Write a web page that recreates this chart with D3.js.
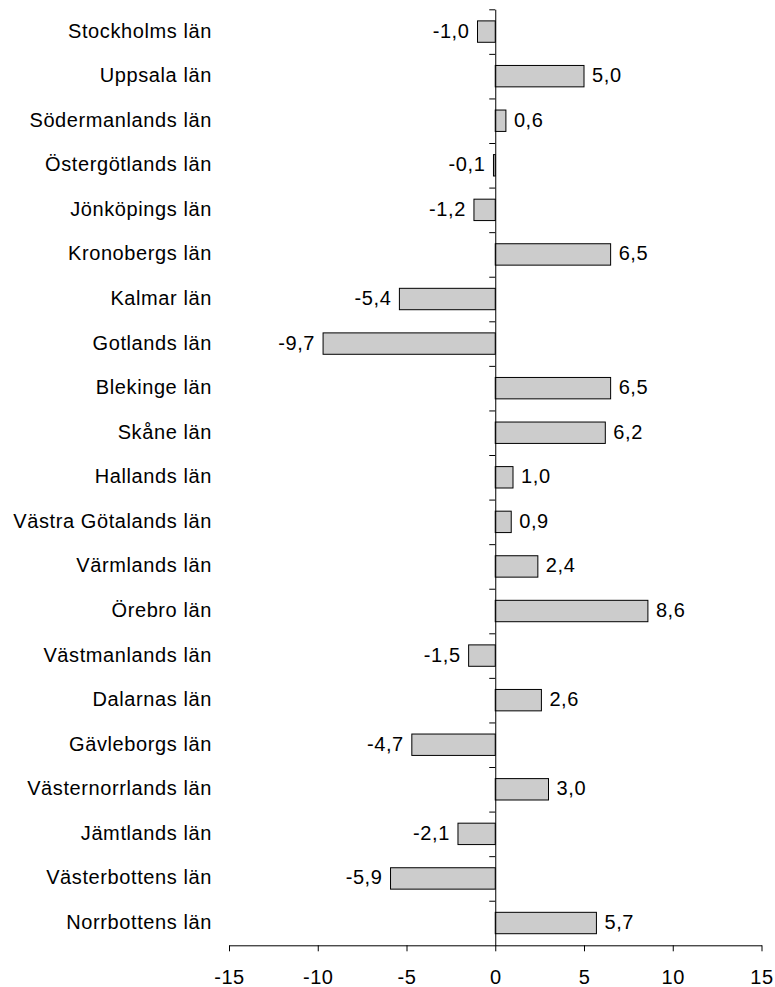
<!DOCTYPE html>
<html>
<head>
<meta charset="utf-8">
<script src="https://cdn.jsdelivr.net/npm/d3@7"></script>
<style>
  body { margin: 0; background: #fff; }
  text { font-family: "Liberation Sans", Arial, sans-serif; fill: #000; }
</style>
</head>
<body>
<div id="my_dataviz"></div>
<script>
var counties = ["Stockholms län", "Uppsala län", "Södermanlands län", "Östergötlands län",
    "Jönköpings län", "Kronobergs län", "Kalmar län", "Gotlands län", "Blekinge län",
    "Skåne län", "Hallands län", "Västra Götalands län", "Värmlands län", "Örebro län",
    "Västmanlands län", "Dalarnas län", "Gävleborgs län", "Västernorrlands län",
    "Jämtlands län", "Västerbottens län", "Norrbottens län"];
var values = [-1.0, 5.0, 0.6, -0.1, -1.2, 6.5, -5.4, -9.7, 6.5, 6.2, 1.0, 0.9, 2.4, 8.6,
    -1.5, 2.6, -4.7, 3.0, -2.1, -5.9, 5.7];
var xTicks = [-15, -10, -5, 0, 5, 10, 15];

var data = counties.map(function(c, i) { return {name: c, value: values[i]}; });

var width = 775, height = 987;
var fontSize = "20px", spacing = "0.6px";

var svg = d3.select("#my_dataviz")
    .append("svg")
    .attr("width", width)
    .attr("height", height);

// scales
var x = d3.scaleLinear()
    .domain([-15, 15])
    .range([229, 761.5]);

var y = d3.scaleBand()
    .domain(counties)
    .range([9.3, 945.3])
    .paddingInner(0.52)
    .paddingOuter(0.26);

// boundaries between categories (for the tick marks on the vertical axis)
var yEdge = d3.scaleLinear()
    .domain([0, counties.length])
    .range([9.3, 945.3]);

var fmt = function(v) { return d3.format(".1f")(v).replace(".", ",").replace("−", "-"); };

// X axis
var xAxis = svg.append("g")
    .attr("transform", "translate(0," + yEdge(counties.length) + ")")
    .call(d3.axisBottom(x).tickValues(xTicks).tickSize(6).tickSizeOuter(0)
        .tickFormat(function(d) { return d3.format("d")(d).replace("−", "-"); }));
xAxis.select(".domain").attr("stroke", "#000").attr("stroke-width", 1);
xAxis.selectAll(".tick line").attr("stroke", "#000");
xAxis.selectAll("text")
    .attr("y", 39)
    .attr("dy", null)
    .style("font-size", fontSize)
    .style("letter-spacing", spacing)
    .style("font-family", "'Liberation Sans', Arial, sans-serif");

// Bars
svg.selectAll("rect.bar")
    .data(data)
    .enter()
    .append("rect")
    .attr("class", "bar")
    .attr("x", function(d) { return x(Math.min(0, d.value)); })
    .attr("y", function(d) { return y(d.name); })
    .attr("width", function(d) { return Math.abs(x(d.value) - x(0)); })
    .attr("height", y.bandwidth())
    .attr("fill", "#cccccc")
    .attr("stroke", "#000")
    .attr("stroke-width", 1);

// Y axis (vertical line at zero with ticks at category boundaries)
var yAxis = svg.append("g")
    .attr("transform", "translate(" + x(0) + ",0)")
    .call(d3.axisLeft(yEdge).tickValues(d3.range(counties.length)).tickSize(6)
        .tickSizeOuter(0).tickFormat(""));
yAxis.select(".domain").attr("stroke", "#000");
yAxis.selectAll(".tick line").attr("stroke", "#000");

// Category labels
svg.selectAll("text.cat")
    .data(data)
    .enter()
    .append("text")
    .attr("class", "cat")
    .attr("x", 212)
    .attr("y", function(d) { return y(d.name) + y.bandwidth() / 2 + 6; })
    .attr("text-anchor", "end")
    .style("font-size", fontSize)
    .style("letter-spacing", spacing)
    .text(function(d) { return d.name; });

// Value labels
svg.selectAll("text.val")
    .data(data)
    .enter()
    .append("text")
    .attr("class", "val")
    .attr("x", function(d) { return d.value < 0 ? x(d.value) - 8 : x(d.value) + 8; })
    .attr("y", function(d) { return y(d.name) + y.bandwidth() / 2 + 6; })
    .attr("text-anchor", function(d) { return d.value < 0 ? "end" : "start"; })
    .style("font-size", fontSize)
    .style("letter-spacing", spacing)
    .text(function(d) { return fmt(d.value); });
</script>
</body>
</html>
